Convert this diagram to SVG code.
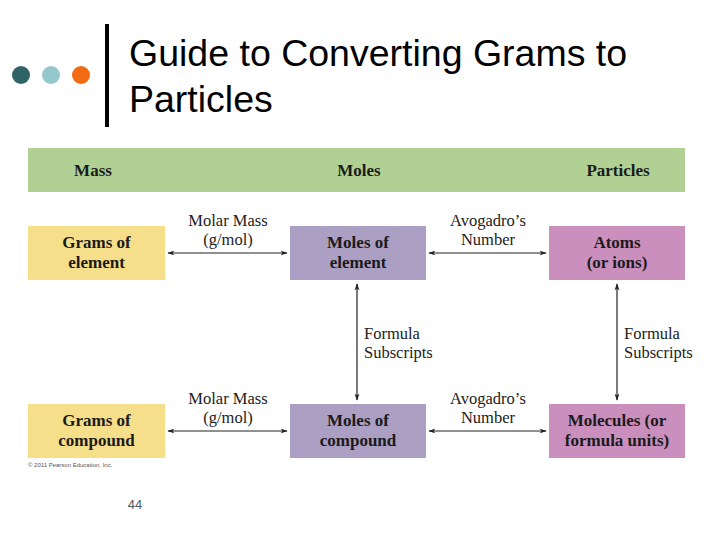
<svg xmlns="http://www.w3.org/2000/svg" width="720" height="540" viewBox="0 0 720 540">
<defs>
<style>
.title{font-family:"Liberation Sans",Arial,sans-serif;font-size:37.5px;fill:#000}
.hdr{font-family:"Liberation Serif","Times New Roman",serif;font-size:17px;font-weight:bold;fill:#1a1a1a;text-anchor:middle}
.box{font-family:"Liberation Serif","Times New Roman",serif;font-size:17px;font-weight:bold;fill:#1a1a1a;text-anchor:middle}
.lbl{font-family:"Liberation Serif","Times New Roman",serif;font-size:16.5px;fill:#222}
.mid{text-anchor:middle}
.conn{stroke:#222;stroke-width:1.2;fill:none;marker-start:url(#ah);marker-end:url(#ah)}
</style>
<marker id="ah" viewBox="0 0 10 10" refX="9" refY="5" markerWidth="7" markerHeight="7" orient="auto-start-reverse" markerUnits="userSpaceOnUse">
<path d="M0,1.5 L10,5 L0,8.5 L2.5,5 Z" fill="#222"/>
</marker>
</defs>
<rect width="720" height="540" fill="#fff"/>
<g id="decor">
<circle cx="21" cy="75" r="9" fill="#2f6366"/>
<circle cx="51" cy="75" r="9" fill="#95c8cc"/>
<circle cx="81" cy="75" r="9" fill="#f26a12"/>
<rect x="105" y="24" width="4" height="103" fill="#000"/>
</g>
<g id="title">
<text class="title" x="129" y="66">Guide to Converting Grams to</text>
<text class="title" x="129" y="112">Particles</text>
</g>
<g id="header">
<rect x="28" y="148" width="657" height="44" fill="#b1d194"/>
<text class="hdr" x="93" y="176">Mass</text>
<text class="hdr" x="359" y="176">Moles</text>
<text class="hdr" x="618" y="176">Particles</text>
</g>
<g id="grams-element">
<rect x="28" y="226" width="137" height="54" fill="#f6df8b"/>
<text class="box" x="96.5" y="248">Grams of</text>
<text class="box" x="96.5" y="268">element</text>
</g>
<g id="moles-element">
<rect x="290" y="226" width="136" height="54" fill="#ab9fc3"/>
<text class="box" x="358" y="248">Moles of</text>
<text class="box" x="358" y="268">element</text>
</g>
<g id="atoms">
<rect x="549" y="226" width="136" height="54" fill="#cb8fbe"/>
<text class="box" x="617" y="248">Atoms</text>
<text class="box" x="617" y="268">(or ions)</text>
</g>
<g id="grams-compound">
<rect x="28" y="404" width="137" height="54" fill="#f6df8b"/>
<text class="box" x="96.5" y="426">Grams of</text>
<text class="box" x="96.5" y="446">compound</text>
</g>
<g id="moles-compound">
<rect x="290" y="404" width="136" height="54" fill="#ab9fc3"/>
<text class="box" x="358" y="426">Moles of</text>
<text class="box" x="358" y="446">compound</text>
</g>
<g id="molecules">
<rect x="549" y="404" width="136" height="54" fill="#cb8fbe"/>
<text class="box" x="617" y="426">Molecules (or</text>
<text class="box" x="617" y="446">formula units)</text>
</g>
<g id="connectors">
<line class="conn" x1="168" y1="253" x2="287" y2="253"/>
<line class="conn" x1="429" y1="253" x2="546" y2="253"/>
<line class="conn" x1="168" y1="431" x2="287" y2="431"/>
<line class="conn" x1="429" y1="431" x2="546" y2="431"/>
<line class="conn" x1="357" y1="284" x2="357" y2="400"/>
<line class="conn" x1="617" y1="284" x2="617" y2="400"/>
</g>
<g id="labels">
<text class="lbl mid" x="228" y="226">Molar Mass</text>
<text class="lbl mid" x="228" y="245">(g/mol)</text>
<text class="lbl mid" x="488" y="226">Avogadro’s</text>
<text class="lbl mid" x="488" y="245">Number</text>
<text class="lbl mid" x="228" y="404">Molar Mass</text>
<text class="lbl mid" x="228" y="423">(g/mol)</text>
<text class="lbl mid" x="488" y="404">Avogadro’s</text>
<text class="lbl mid" x="488" y="423">Number</text>
<text class="lbl" x="364" y="339">Formula</text>
<text class="lbl" x="364" y="358">Subscripts</text>
<text class="lbl" x="624" y="339">Formula</text>
<text class="lbl" x="624" y="358">Subscripts</text>
</g>
<g id="footer">
<text x="28" y="467" font-family="Liberation Sans,Arial,sans-serif" font-size="6" fill="#555">© 2011 Pearson Education, Inc.</text>
<text x="135" y="509" font-family="Liberation Sans,Arial,sans-serif" font-size="13" fill="#4d5a60" text-anchor="middle">44</text>
</g>
</svg>
